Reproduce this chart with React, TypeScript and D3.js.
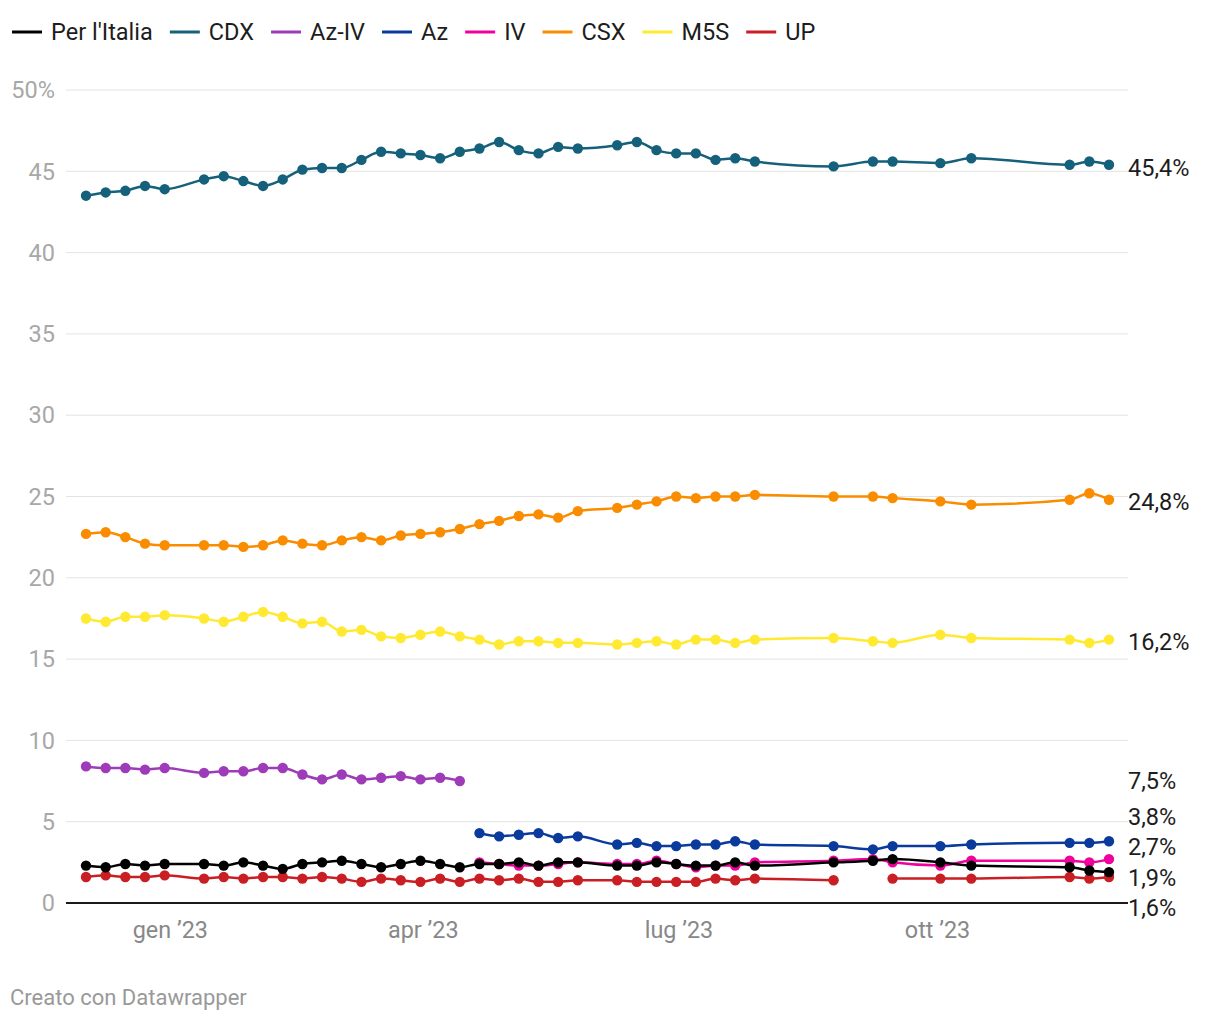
import React, { useEffect, useRef } from "react";
import * as d3 from "d3";

const dates: string[] = [
  "2022-12-02", "2022-12-09", "2022-12-16", "2022-12-23", "2022-12-30",
  "2023-01-13", "2023-01-20", "2023-01-27", "2023-02-03", "2023-02-10",
  "2023-02-17", "2023-02-24", "2023-03-03", "2023-03-10", "2023-03-17",
  "2023-03-24", "2023-03-31", "2023-04-07", "2023-04-14",
  "2023-04-21", "2023-04-28", "2023-05-05", "2023-05-12", "2023-05-19",
  "2023-05-26", "2023-06-09", "2023-06-16", "2023-06-23", "2023-06-30",
  "2023-07-07", "2023-07-14", "2023-07-21", "2023-07-28", "2023-08-25",
  "2023-09-08", "2023-09-15", "2023-10-02", "2023-10-13", "2023-11-17",
  "2023-11-24", "2023-12-01",
];

const N = null;
const perItalia = [2.3, 2.2, 2.4, 2.3, 2.4, 2.4, 2.3, 2.5, 2.3, 2.1, 2.4, 2.5, 2.6, 2.4, 2.2, 2.4, 2.6, 2.4, 2.2,
  2.4, 2.4, 2.5, 2.3, 2.5, 2.5, 2.3, 2.3, 2.5, 2.4, 2.3, 2.3, 2.5, 2.3, 2.5, 2.6, 2.7, 2.5, 2.3, 2.2, 2.0, 1.9];
const cdx = [43.5, 43.7, 43.8, 44.1, 43.9, 44.5, 44.7, 44.4, 44.1, 44.5, 45.1, 45.2, 45.2, 45.7, 46.2, 46.1, 46.0, 45.8, 46.2,
  46.4, 46.8, 46.3, 46.1, 46.5, 46.4, 46.6, 46.8, 46.3, 46.1, 46.1, 45.7, 45.8, 45.6, 45.3, 45.6, 45.6, 45.5, 45.8, 45.4, 45.6, 45.4];
const azIv = [8.4, 8.3, 8.3, 8.2, 8.3, 8.0, 8.1, 8.1, 8.3, 8.3, 7.9, 7.6, 7.9, 7.6, 7.7, 7.8, 7.6, 7.7, 7.5,
  N, N, N, N, N, N, N, N, N, N, N, N, N, N, N, N, N, N, N, N, N, N];
const az = [N, N, N, N, N, N, N, N, N, N, N, N, N, N, N, N, N, N, N,
  4.3, 4.1, 4.2, 4.3, 4.0, 4.1, 3.6, 3.7, 3.5, 3.5, 3.6, 3.6, 3.8, 3.6, 3.5, 3.3, 3.5, 3.5, 3.6, 3.7, 3.7, 3.8];
const iv = [N, N, N, N, N, N, N, N, N, N, N, N, N, N, N, N, N, N, N,
  2.5, 2.4, 2.3, 2.3, 2.4, 2.5, 2.4, 2.4, 2.6, 2.4, 2.2, 2.3, 2.3, 2.5, 2.6, 2.7, 2.5, 2.3, 2.6, 2.6, 2.5, 2.7];
const csx = [22.7, 22.8, 22.5, 22.1, 22.0, 22.0, 22.0, 21.9, 22.0, 22.3, 22.1, 22.0, 22.3, 22.5, 22.3, 22.6, 22.7, 22.8, 23.0,
  23.3, 23.5, 23.8, 23.9, 23.7, 24.1, 24.3, 24.5, 24.7, 25.0, 24.9, 25.0, 25.0, 25.1, 25.0, 25.0, 24.9, 24.7, 24.5, 24.8, 25.2, 24.8];
const m5s = [17.5, 17.3, 17.6, 17.6, 17.7, 17.5, 17.3, 17.6, 17.9, 17.6, 17.2, 17.3, 16.7, 16.8, 16.4, 16.3, 16.5, 16.7, 16.4,
  16.2, 15.9, 16.1, 16.1, 16.0, 16.0, 15.9, 16.0, 16.1, 15.9, 16.2, 16.2, 16.0, 16.2, 16.3, 16.1, 16.0, 16.5, 16.3, 16.2, 16.0, 16.2];
const up = [1.6, 1.7, 1.6, 1.6, 1.7, 1.5, 1.6, 1.5, 1.6, 1.6, 1.5, 1.6, 1.5, 1.3, 1.5, 1.4, 1.3, 1.5, 1.3,
  1.5, 1.4, 1.5, 1.3, 1.3, 1.4, 1.4, 1.3, 1.3, 1.3, 1.3, 1.5, 1.4, 1.5, 1.4, N, 1.5, 1.5, 1.5, 1.6, 1.5, 1.6];

const seriesNames = ["Per l'Italia", "CDX", "Az-IV", "Az", "IV", "CSX", "M5S", "UP"];
const seriesValues = [perItalia, cdx, azIv, az, iv, csx, m5s, up];
const seriesColors = ["#000000", "#15607a", "#9e3bb8", "#0a3a9c", "#f0009c", "#fa8c00", "#ffe931", "#c91f24"];

const yTicks = [0, 5, 10, 15, 20, 25, 30, 35, 40, 45, 50];
const xTickDates = ["2023-01-01", "2023-04-01", "2023-07-01", "2023-10-01"];
const xTickLabels = ["gen \u201923", "apr \u201923", "lug \u201923", "ott \u201923"];

const FONT = "Roboto, 'Noto Sans', sans-serif";

function App() {
  const ref = useRef<SVGSVGElement | null>(null);

  useEffect(() => {
    const svg = d3.select(ref.current);
    svg.selectAll("*").remove();
    const parse = d3.timeParse("%Y-%m-%d");
    const dts = dates.map((d) => parse(d) as Date);

    const x = d3.scaleTime().domain([dts[0], dts[dts.length - 1]]).range([86, 1109]);
    const y = d3.scaleLinear().domain([0, 50]).range([903, 90]);
    const gridX0 = 66;
    const gridX1 = 1128;

    // gridlines
    const grid = svg.append("g");
    yTicks.filter((t) => t !== 0).forEach((t) => {
      grid.append("line").attr("x1", gridX0).attr("x2", gridX1)
        .attr("y1", y(t)).attr("y2", y(t))
        .attr("stroke", "#e3e3e3").attr("stroke-width", 1);
    });
    yTicks.forEach((t) => {
      grid.append("text").attr("x", 55).attr("y", y(t)).attr("dy", "0.35em")
        .attr("text-anchor", "end").attr("font-family", FONT).attr("font-size", 23.5)
        .attr("fill", "#a8a8a8").text(t === 50 ? "50%" : String(t));
    });
    // x ticks
    xTickDates.forEach((d, i) => {
      svg.append("text").attr("x", x(parse(d) as Date)).attr("y", 938)
        .attr("text-anchor", "middle").attr("font-family", FONT).attr("font-size", 23.4)
        .attr("fill", "#888").text(xTickLabels[i]);
    });

    // lines
    const line = d3.line<{ d: Date; v: number | null }>()
      .defined((p) => p.v != null)
      .x((p) => x(p.d))
      .y((p) => y(p.v as number))
      .curve(d3.curveMonotoneX);

    const order = seriesNames.map((_, i) => i).reverse();
    order.forEach((si) => {
      const pts = seriesValues[si].map((v, i) => ({ d: dts[i], v }));
      const g = svg.append("g");
      g.append("path").attr("d", line(pts) as string).attr("fill", "none")
        .attr("stroke", seriesColors[si]).attr("stroke-width", 2.5)
        .attr("stroke-linejoin", "round").attr("stroke-linecap", "round");
      g.selectAll("circle").data(pts.filter((p) => p.v != null)).enter()
        .append("circle").attr("cx", (p) => x(p.d)).attr("cy", (p) => y(p.v as number))
        .attr("r", 5.2).attr("fill", seriesColors[si]);
    });

    // zero baseline
    svg.append("line").attr("x1", gridX0).attr("x2", gridX1)
      .attr("y1", y(0)).attr("y2", y(0)).attr("stroke", "#1a1a1a").attr("stroke-width", 2);

    // end labels with collision avoidance
    type Lab = { v: number; y: number; text: string };
    const labs: Lab[] = seriesValues.map((vals) => {
      let last = vals[vals.length - 1];
      for (let i = vals.length - 1; i >= 0 && last == null; i--) last = vals[i];
      const v = last as number;
      return { v, y: y(v), text: d3.format(".1f")(v).replace(".", ",") + "%" };
    }).sort((a, b) => a.y - b.y);
    const gap = 30.5;
    let clusters = labs.map((l) => ({ items: [l], top: l.y }));
    let changed = true;
    while (changed) {
      changed = false;
      for (let i = 0; i < clusters.length - 1; i++) {
        const a = clusters[i];
        const b = clusters[i + 1];
        const aBottom = a.top + (a.items.length - 1) * gap;
        if (b.top - aBottom < gap) {
          const items = a.items.concat(b.items);
          const mean = d3.mean(items, (it) => it.y) as number;
          const top = mean - ((items.length - 1) * gap) / 2;
          clusters.splice(i, 2, { items, top });
          changed = true;
          break;
        }
      }
    }
    clusters.forEach((c) => {
      c.items.forEach((it, k) => {
        svg.append("text").attr("x", 1128).attr("y", c.top + k * gap + (c.items.length === 1 && it.v > 10 ? 2.5 : 0)).attr("dy", "0.35em")
          .attr("font-family", FONT).attr("font-size", 23.5).attr("fill", "#1d1d1d").text(it.text);
      });
    });

    // legend
    let lx = 12;
    seriesNames.forEach((name, i) => {
      svg.append("line").attr("x1", lx).attr("x2", lx + 30).attr("y1", 32).attr("y2", 32)
        .attr("stroke", seriesColors[i]).attr("stroke-width", 3);
      const t = svg.append("text").attr("x", lx + 39).attr("y", 32).attr("dy", "0.35em")
        .attr("font-family", FONT).attr("font-size", 23.5).attr("fill", "#1d1d1d").text(name);
      const w = (t.node() as SVGTextElement).getComputedTextLength();
      lx += 39 + w + 17;
    });

    // footer
    svg.append("text").attr("x", 10).attr("y", 997).attr("dy", "0.35em")
      .attr("font-family", FONT).attr("font-size", 22).attr("fill", "#999")
      .text("Creato con Datawrapper");
  }, []);

  return (
    <div style={{ position: "absolute", left: 0, top: 0, background: "#fff" }}>
      <svg ref={ref} width={1220} height={1020} style={{ display: "block" }} />
    </div>
  );
}

export default App;
